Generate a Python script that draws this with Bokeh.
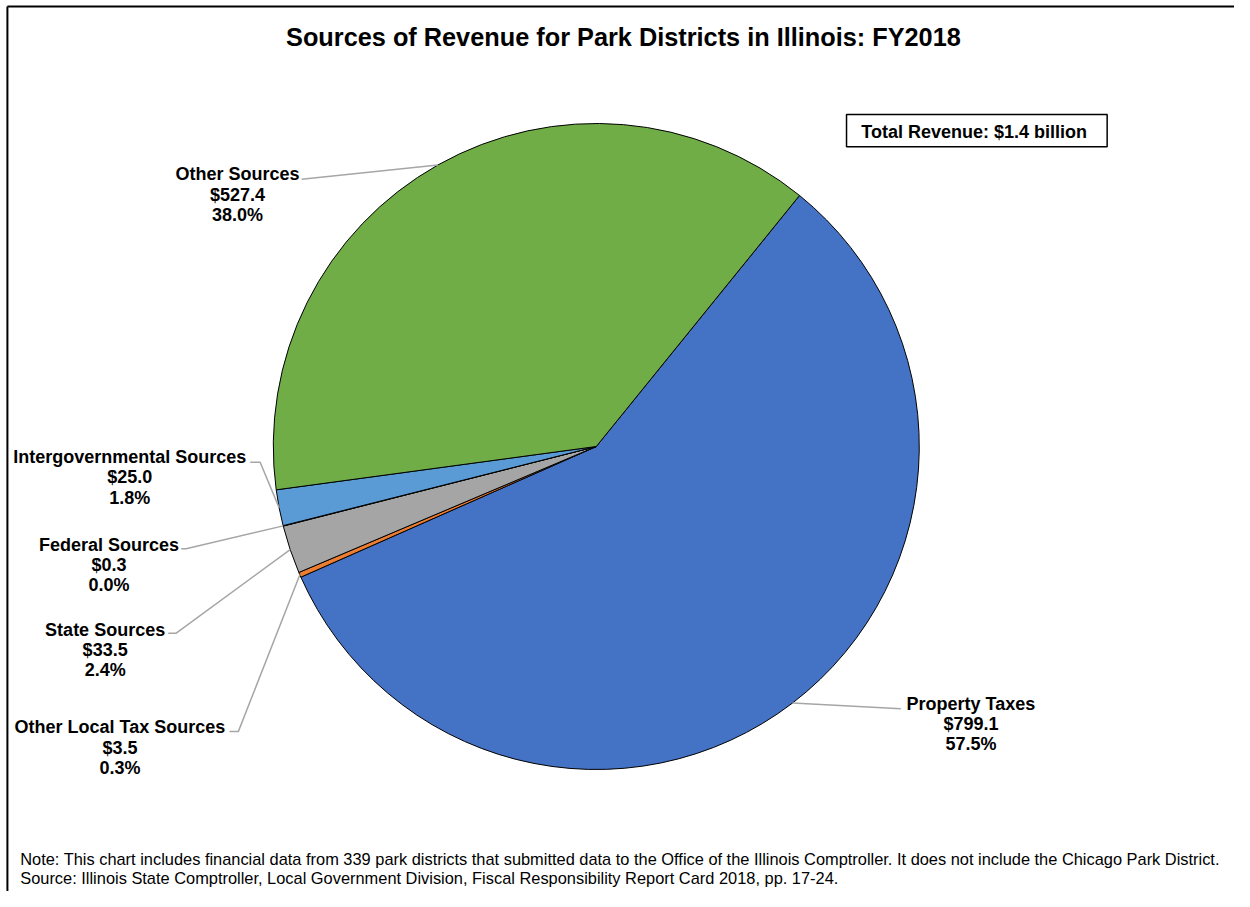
import math
from bokeh.plotting import figure
from bokeh.models import ColumnDataSource, Range1d
from bokeh.core.properties import value
from bokeh.embed import file_html
from bokeh.resources import INLINE

# ---------------- data ----------------
categories = ["Property Taxes", "Other Local Tax Sources", "State Sources",
              "Federal Sources", "Intergovernmental Sources", "Other Sources"]
revenue = [799.1, 3.5, 33.5, 0.3, 25.0, 527.4]   # $ millions
colors = ["#4472C4", "#ED7D31", "#A5A5A5", "#FFC000", "#5B9BD5", "#70AD47"]

title_text = "Sources of Revenue for Park Districts in Illinois: FY2018"
note_lines = [
    "Note: This chart includes financial data from 339 park districts that submitted data to the Office of the Illinois Comptroller. It does not include the Chicago Park District.",
    "Source: Illinois State Comptroller, Local Government Division, Fiscal Responsibility Report Card 2018, pp. 17-24.",
]

# ---------------- layout ----------------
W, H = 1234, 891
FONT = "Liberation Sans"
SX, SY = W / 1250.0, H / 907.0


def X(px):
    return px * SX


def Y(py):
    return H - py * SY


cx, cy, R = X(603.5), Y(454), 328 * (SX + SY) / 2
first_angle = 39.0  # degrees clockwise from 12 o'clock

label_cx = [983, 121, 106, 110, 131, 240]
label_top = [716, 740, 641, 554, 465, 177]
leader_start = [(912, 721), (232, 744), (170, 644), (183, 558), (253, 470), (305, 182)]
leader_elbow = [(912, 721), (241, 744), (178, 644), (188, 558), (263, 470), (305, 182)]
LINE_H = 20.5 * SY

total = sum(revenue)
starts, ends, mids = [], [], []
acc = first_angle
for v in revenue:
    a0 = acc
    a1 = acc + v / total * 360.0
    starts.append(math.radians(90 - a0))
    ends.append(math.radians(90 - a1))
    mids.append(math.radians(90 - (a0 + a1) / 2))
    acc = a1

p = figure(width=W, height=H, output_backend="svg", toolbar_location=None,
           x_range=Range1d(0, W), y_range=Range1d(0, H),
           x_axis_type=None, y_axis_type=None, min_border=0)
p.outline_line_color = None
p.background_fill_color = "white"
p.border_fill_color = "white"
p.grid.visible = False

# frame (left and top edges)
fx, fy = X(7), Y(6)
p.segment(x0=[fx, fx], y0=[0, fy], x1=[fx, W], y1=[fy, fy], line_color="black", line_width=2)

# pie
src = ColumnDataSource(dict(cat=categories, val=revenue, color=colors, start=starts, end=ends))
p.wedge(x=cx, y=cy, radius=R, start_angle="start", end_angle="end", direction="clock",
        fill_color="color", line_color="black", line_width=1, source=src)

# leader lines
xs, ys = [], []
for i, m in enumerate(mids):
    ex, ey = cx + R * math.cos(m), cy + R * math.sin(m)
    xs.append([X(leader_start[i][0]), X(leader_elbow[i][0]), ex])
    ys.append([Y(leader_start[i][1]), Y(leader_elbow[i][1]), ey])
p.multi_line(xs=xs, ys=ys, line_color="#A6A6A6", line_width=1.5)

# data labels
vals = ["$%.1f" % v for v in revenue]
pcts = ["%.1f%%" % (v / total * 100) for v in revenue]
lx = [X(c) for c in label_cx]
for k, texts in enumerate([categories, vals, pcts]):
    ly = [Y(t) - k * LINE_H for t in label_top]
    p.text(x=lx, y=ly, text=texts, text_font=value(FONT), text_font_style="bold",
           text_font_size="18px", text_align="center", text_baseline="middle", text_color="black")

# title
p.text(x=[X(631)], y=[Y(37)], text=[title_text], text_font=value(FONT), text_font_style="bold",
       text_font_size="25.3px", text_align="center", text_baseline="middle", text_color="black")

# total revenue box
p.rect(x=[X(989)], y=[Y(132.5)], width=264 * SX, height=33 * SY, fill_color=None,
       line_color="black", line_width=1.5)
p.text(x=[X(872)], y=[Y(134)], text=["Total Revenue:  $%.1f billion" % (total / 1000)],
       text_font=value(FONT), text_font_style="bold", text_font_size="18px",
       text_align="left", text_baseline="middle", text_color="black")

# footnotes
p.text(x=[X(20), X(20)], y=[Y(874), Y(893)], text=note_lines, text_font=value(FONT),
       text_font_size="16.4px", text_align="left", text_baseline="middle", text_color="black")

open("out.html", "w").write(file_html(p, INLINE))
